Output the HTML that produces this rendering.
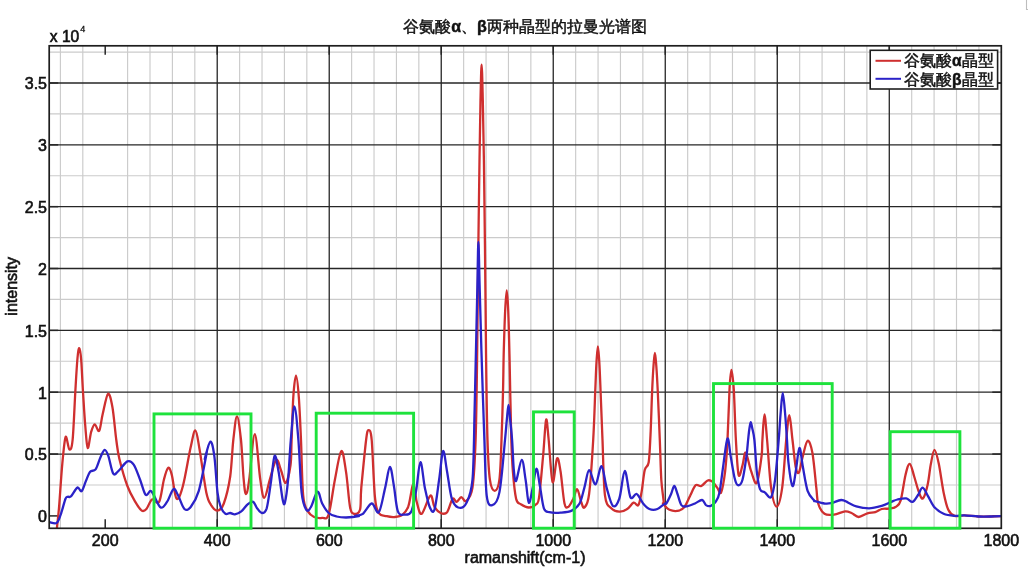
<!DOCTYPE html>
<html><head><meta charset="utf-8"><style>
html,body{margin:0;padding:0;background:#fff;width:1028px;height:567px;overflow:hidden}
svg{display:block;font-family:"Liberation Sans",sans-serif;will-change:transform}
.mg{stroke:#cbcbcb;stroke-width:1.15}
.Mg{stroke:#262626;stroke-width:1.3}
.tk{stroke:#262626;stroke-width:1.5}
.tl{font-size:16px;fill:#111;stroke:#111;stroke-width:0.6}
.gr{fill:none;stroke:#1ee23c;stroke-width:2.9}
.cv{fill:none;stroke-width:2.3;stroke-linejoin:round;stroke-linecap:round}
</style></head><body>
<svg width="1028" height="567" viewBox="0 0 1028 567">
<rect x="0" y="0" width="1028" height="567" fill="#fff"/>
<line x1="60.40" y1="45.8" x2="60.40" y2="528.3" class="mg"/>
<line x1="82.80" y1="45.8" x2="82.80" y2="528.3" class="mg"/>
<line x1="127.61" y1="45.8" x2="127.61" y2="528.3" class="mg"/>
<line x1="150.01" y1="45.8" x2="150.01" y2="528.3" class="mg"/>
<line x1="172.41" y1="45.8" x2="172.41" y2="528.3" class="mg"/>
<line x1="194.82" y1="45.8" x2="194.82" y2="528.3" class="mg"/>
<line x1="239.62" y1="45.8" x2="239.62" y2="528.3" class="mg"/>
<line x1="262.02" y1="45.8" x2="262.02" y2="528.3" class="mg"/>
<line x1="284.42" y1="45.8" x2="284.42" y2="528.3" class="mg"/>
<line x1="306.83" y1="45.8" x2="306.83" y2="528.3" class="mg"/>
<line x1="351.63" y1="45.8" x2="351.63" y2="528.3" class="mg"/>
<line x1="374.03" y1="45.8" x2="374.03" y2="528.3" class="mg"/>
<line x1="396.44" y1="45.8" x2="396.44" y2="528.3" class="mg"/>
<line x1="418.84" y1="45.8" x2="418.84" y2="528.3" class="mg"/>
<line x1="463.64" y1="45.8" x2="463.64" y2="528.3" class="mg"/>
<line x1="486.05" y1="45.8" x2="486.05" y2="528.3" class="mg"/>
<line x1="508.45" y1="45.8" x2="508.45" y2="528.3" class="mg"/>
<line x1="530.85" y1="45.8" x2="530.85" y2="528.3" class="mg"/>
<line x1="575.66" y1="45.8" x2="575.66" y2="528.3" class="mg"/>
<line x1="598.06" y1="45.8" x2="598.06" y2="528.3" class="mg"/>
<line x1="620.46" y1="45.8" x2="620.46" y2="528.3" class="mg"/>
<line x1="642.86" y1="45.8" x2="642.86" y2="528.3" class="mg"/>
<line x1="687.67" y1="45.8" x2="687.67" y2="528.3" class="mg"/>
<line x1="710.07" y1="45.8" x2="710.07" y2="528.3" class="mg"/>
<line x1="732.47" y1="45.8" x2="732.47" y2="528.3" class="mg"/>
<line x1="754.87" y1="45.8" x2="754.87" y2="528.3" class="mg"/>
<line x1="799.68" y1="45.8" x2="799.68" y2="528.3" class="mg"/>
<line x1="822.08" y1="45.8" x2="822.08" y2="528.3" class="mg"/>
<line x1="844.48" y1="45.8" x2="844.48" y2="528.3" class="mg"/>
<line x1="866.89" y1="45.8" x2="866.89" y2="528.3" class="mg"/>
<line x1="911.69" y1="45.8" x2="911.69" y2="528.3" class="mg"/>
<line x1="934.09" y1="45.8" x2="934.09" y2="528.3" class="mg"/>
<line x1="956.50" y1="45.8" x2="956.50" y2="528.3" class="mg"/>
<line x1="978.90" y1="45.8" x2="978.90" y2="528.3" class="mg"/>
<line x1="49.2" y1="484.98" x2="1001.3" y2="484.98" class="mg"/>
<line x1="49.2" y1="423.13" x2="1001.3" y2="423.13" class="mg"/>
<line x1="49.2" y1="361.29" x2="1001.3" y2="361.29" class="mg"/>
<line x1="49.2" y1="299.44" x2="1001.3" y2="299.44" class="mg"/>
<line x1="49.2" y1="237.60" x2="1001.3" y2="237.60" class="mg"/>
<line x1="49.2" y1="175.75" x2="1001.3" y2="175.75" class="mg"/>
<line x1="49.2" y1="113.91" x2="1001.3" y2="113.91" class="mg"/>
<line x1="49.2" y1="52.06" x2="1001.3" y2="52.06" class="mg"/>
<line x1="217.22" y1="45.8" x2="217.22" y2="528.3" class="Mg"/>
<line x1="329.23" y1="45.8" x2="329.23" y2="528.3" class="Mg"/>
<line x1="441.24" y1="45.8" x2="441.24" y2="528.3" class="Mg"/>
<line x1="553.25" y1="45.8" x2="553.25" y2="528.3" class="Mg"/>
<line x1="665.26" y1="45.8" x2="665.26" y2="528.3" class="Mg"/>
<line x1="777.28" y1="45.8" x2="777.28" y2="528.3" class="Mg"/>
<line x1="889.29" y1="45.8" x2="889.29" y2="528.3" class="Mg"/>
<line x1="49.2" y1="454.05" x2="1001.3" y2="454.05" class="Mg"/>
<line x1="49.2" y1="392.21" x2="1001.3" y2="392.21" class="Mg"/>
<line x1="49.2" y1="330.37" x2="1001.3" y2="330.37" class="Mg"/>
<line x1="49.2" y1="268.52" x2="1001.3" y2="268.52" class="Mg"/>
<line x1="49.2" y1="206.67" x2="1001.3" y2="206.67" class="Mg"/>
<line x1="49.2" y1="144.83" x2="1001.3" y2="144.83" class="Mg"/>
<line x1="49.2" y1="82.99" x2="1001.3" y2="82.99" class="Mg"/>
<line x1="105.21" y1="528.3" x2="105.21" y2="519.3" class="tk"/>
<line x1="105.21" y1="45.8" x2="105.21" y2="54.8" class="tk"/>
<line x1="217.22" y1="528.3" x2="217.22" y2="519.3" class="tk"/>
<line x1="217.22" y1="45.8" x2="217.22" y2="54.8" class="tk"/>
<line x1="329.23" y1="528.3" x2="329.23" y2="519.3" class="tk"/>
<line x1="329.23" y1="45.8" x2="329.23" y2="54.8" class="tk"/>
<line x1="441.24" y1="528.3" x2="441.24" y2="519.3" class="tk"/>
<line x1="441.24" y1="45.8" x2="441.24" y2="54.8" class="tk"/>
<line x1="553.25" y1="528.3" x2="553.25" y2="519.3" class="tk"/>
<line x1="553.25" y1="45.8" x2="553.25" y2="54.8" class="tk"/>
<line x1="665.26" y1="528.3" x2="665.26" y2="519.3" class="tk"/>
<line x1="665.26" y1="45.8" x2="665.26" y2="54.8" class="tk"/>
<line x1="777.28" y1="528.3" x2="777.28" y2="519.3" class="tk"/>
<line x1="777.28" y1="45.8" x2="777.28" y2="54.8" class="tk"/>
<line x1="889.29" y1="528.3" x2="889.29" y2="519.3" class="tk"/>
<line x1="889.29" y1="45.8" x2="889.29" y2="54.8" class="tk"/>
<line x1="49.2" y1="515.90" x2="58.2" y2="515.90" class="tk"/>
<line x1="1001.3" y1="515.90" x2="992.3" y2="515.90" class="tk"/>
<line x1="49.2" y1="454.05" x2="58.2" y2="454.05" class="tk"/>
<line x1="1001.3" y1="454.05" x2="992.3" y2="454.05" class="tk"/>
<line x1="49.2" y1="392.21" x2="58.2" y2="392.21" class="tk"/>
<line x1="1001.3" y1="392.21" x2="992.3" y2="392.21" class="tk"/>
<line x1="49.2" y1="330.37" x2="58.2" y2="330.37" class="tk"/>
<line x1="1001.3" y1="330.37" x2="992.3" y2="330.37" class="tk"/>
<line x1="49.2" y1="268.52" x2="58.2" y2="268.52" class="tk"/>
<line x1="1001.3" y1="268.52" x2="992.3" y2="268.52" class="tk"/>
<line x1="49.2" y1="206.67" x2="58.2" y2="206.67" class="tk"/>
<line x1="1001.3" y1="206.67" x2="992.3" y2="206.67" class="tk"/>
<line x1="49.2" y1="144.83" x2="58.2" y2="144.83" class="tk"/>
<line x1="1001.3" y1="144.83" x2="992.3" y2="144.83" class="tk"/>
<line x1="49.2" y1="82.99" x2="58.2" y2="82.99" class="tk"/>
<line x1="1001.3" y1="82.99" x2="992.3" y2="82.99" class="tk"/>
<defs><clipPath id="pc"><rect x="49.2" y="45.8" width="952.1" height="482.5"/></clipPath></defs>
<g clip-path="url(#pc)">
<path d="M56.7,530.0 C57.1,526.1 58.2,517.7 59.1,506.7 C60.0,495.7 61.2,475.4 62.3,463.8 C63.4,452.2 64.5,439.4 65.6,437.0 C66.8,434.6 68.2,449.0 69.4,449.5 C70.6,450.0 71.6,449.6 72.6,440.0 C73.6,430.4 74.5,405.7 75.3,392.0 C76.1,378.3 76.8,365.3 77.5,358.0 C78.2,350.7 78.7,347.9 79.3,348.2 C79.9,348.5 80.6,352.7 81.2,360.0 C81.8,367.3 82.3,381.2 83.0,392.0 C83.7,402.8 84.4,415.7 85.2,425.0 C86.0,434.3 86.7,446.8 87.7,447.9 C88.7,449.0 90.0,435.7 91.2,431.7 C92.4,427.8 93.4,424.5 94.7,424.3 C96.1,424.2 97.8,432.6 99.2,430.8 C100.5,429.1 101.2,420.3 102.7,414.1 C104.2,407.9 106.4,395.0 108.0,393.8 C109.6,392.6 111.0,399.3 112.4,407.0 C113.8,414.7 115.1,431.3 116.3,440.0 C117.5,448.7 117.6,451.4 119.4,459.0 C121.3,466.7 124.7,478.9 127.4,486.0 C130.0,493.2 132.9,497.8 135.3,501.9 C137.7,506.0 139.8,509.4 141.7,510.6 C143.5,511.8 144.7,510.9 146.4,509.0 C148.1,507.2 149.9,500.7 152.0,499.5 C154.1,498.3 157.1,505.2 159.1,501.9 C161.1,498.6 162.4,485.4 163.9,479.7 C165.4,474.0 166.8,468.6 168.2,467.8 C169.5,467.0 170.4,469.8 171.8,474.9 C173.2,480.1 174.7,496.9 176.6,498.7 C178.4,500.6 180.6,494.5 182.9,486.0 C185.2,477.6 188.4,457.3 190.5,448.0 C192.6,438.7 193.8,430.3 195.3,430.5 C196.8,430.7 197.7,438.7 199.5,449.0 C201.3,459.3 204.4,483.0 206.3,492.4 C208.3,501.7 209.3,502.0 211.1,505.1 C213.0,508.1 215.3,510.9 217.5,510.6 C219.6,510.4 221.7,509.2 223.8,503.5 C225.9,497.8 228.6,487.1 230.2,476.5 C231.7,465.9 232.2,450.0 233.3,440.0 C234.5,430.0 235.7,416.3 237.0,416.3 C238.3,416.3 239.8,429.4 241.0,440.0 C242.1,450.6 242.8,470.7 243.7,479.7 C244.5,488.7 245.1,494.0 246.0,494.0 C247.0,494.0 247.8,489.7 249.2,479.7 C250.7,469.7 252.9,434.1 254.8,434.1 C256.6,434.1 258.7,469.0 260.3,479.7 C261.9,490.3 262.7,497.9 264.3,497.9 C265.9,497.9 267.9,486.0 269.8,479.7 C271.8,473.3 274.3,461.4 276.2,459.8 C278.0,458.3 279.4,466.3 281.0,470.2 C282.5,474.0 284.1,483.7 285.7,482.9 C287.3,482.1 289.5,472.5 290.5,465.4 C291.5,458.3 291.1,451.4 291.6,440.0 C292.1,428.6 292.6,407.7 293.3,397.0 C294.0,386.3 295.1,375.6 296.0,375.6 C296.9,375.6 298.0,386.3 298.8,397.0 C299.6,407.7 300.3,423.6 301.0,440.0 C301.7,456.4 302.0,483.7 303.2,495.6 C304.3,507.5 306.1,507.9 307.9,511.4 C309.8,515.0 311.9,515.9 314.3,517.0 C316.7,518.0 319.8,518.2 322.2,517.8 C324.6,517.4 326.5,521.0 328.6,514.6 C330.7,508.3 332.8,490.3 334.9,479.7 C337.0,469.1 339.4,452.4 341.3,451.1 C343.1,449.8 344.6,462.5 346.0,471.7 C347.5,481.0 348.7,499.7 350.0,506.7 C351.3,513.7 352.3,513.3 354.0,513.8 C355.6,514.3 358.8,514.2 360.0,509.8 C361.2,505.5 360.3,499.3 361.3,487.6 C362.4,476.0 364.9,449.6 366.1,440.0 C367.3,430.4 367.6,430.2 368.5,430.2 C369.4,430.2 370.6,429.1 371.7,440.0 C372.7,450.9 373.7,483.4 374.8,495.6 C376.0,507.7 376.8,509.6 378.8,513.0 C380.8,516.5 384.1,515.5 386.7,516.2 C389.4,516.9 392.0,517.2 394.7,517.0 C397.3,516.7 400.4,516.3 402.6,514.6 C404.9,512.9 406.7,510.4 408.2,506.7 C409.6,502.9 410.5,495.8 411.3,492.0 C412.1,488.2 412.6,484.0 413.2,484.0 C413.8,484.0 414.6,488.8 415.2,492.0 C415.8,495.2 415.9,499.4 417.0,503.0 C418.1,506.6 419.4,515.1 421.7,513.8 C423.9,512.6 428.3,496.7 430.4,495.6 C432.5,494.4 432.6,503.8 434.4,506.7 C436.1,509.6 438.6,512.1 440.7,513.0 C442.8,513.9 445.1,514.6 447.1,512.2 C449.0,509.8 451.0,500.4 452.6,498.7 C454.2,497.0 455.1,502.2 456.6,501.9 C458.0,501.6 459.8,497.3 461.3,497.1 C462.9,497.0 464.3,502.7 466.1,501.1 C468.0,499.5 470.9,497.8 472.5,487.6 C474.0,477.4 474.8,462.9 475.6,440.0 C476.4,417.1 476.8,381.7 477.2,350.0 C477.6,318.3 477.9,281.7 478.3,250.0 C478.7,218.3 479.1,185.0 479.5,160.0 C479.9,135.0 480.1,115.9 480.5,100.0 C480.9,84.1 481.2,64.7 481.6,64.7 C482.0,64.7 482.4,84.1 482.8,100.0 C483.2,115.9 483.5,135.0 483.9,160.0 C484.3,185.0 484.6,218.3 485.0,250.0 C485.4,281.7 485.6,318.3 486.0,350.0 C486.4,381.7 486.8,418.4 487.5,440.0 C488.2,461.6 488.7,471.2 489.9,479.7 C491.1,488.1 493.1,490.8 494.7,490.8 C496.3,490.8 498.3,488.1 499.4,479.7 C500.6,471.2 500.9,454.6 501.5,440.0 C502.1,425.4 502.6,407.0 503.0,392.0 C503.4,377.0 503.4,363.7 503.8,350.0 C504.2,336.3 504.7,319.9 505.2,310.0 C505.7,300.1 506.2,290.5 506.7,290.5 C507.2,290.5 507.7,298.4 508.2,310.0 C508.7,321.6 509.1,338.3 509.6,360.0 C510.1,381.7 510.7,421.4 511.3,440.0 C511.9,458.6 512.1,462.0 512.9,471.7 C513.7,481.5 514.8,493.3 516.1,498.7 C517.4,504.2 518.8,502.8 520.9,504.3 C523.0,505.7 526.3,507.5 528.8,507.5 C531.3,507.5 534.2,506.0 536.0,504.3 C537.7,502.6 537.9,505.2 539.1,497.1 C540.3,489.1 541.9,468.8 543.1,455.9 C544.3,443.0 545.2,422.4 546.1,419.8 C547.0,417.2 547.6,429.6 548.7,440.0 C549.7,450.4 551.2,479.0 552.6,482.1 C554.0,485.1 555.7,460.0 557.1,458.3 C558.4,456.5 559.3,464.2 560.6,471.7 C561.8,479.3 563.2,497.7 564.5,503.5 C565.8,509.3 567.0,507.5 568.5,506.7 C569.9,505.9 571.8,501.6 573.3,498.7 C574.7,495.8 575.9,488.7 577.2,489.2 C578.5,489.7 580.0,498.9 581.2,501.9 C582.4,504.9 583.0,508.8 584.4,507.5 C585.7,506.1 587.7,505.2 589.1,494.0 C590.6,482.7 592.2,457.0 593.2,440.0 C594.2,423.0 594.7,405.0 595.2,392.0 C595.8,379.0 596.0,369.6 596.5,362.0 C597.0,354.4 597.4,346.4 597.9,346.4 C598.4,346.4 598.8,354.4 599.3,362.0 C599.8,369.6 600.1,379.0 600.6,392.0 C601.1,405.0 601.8,422.7 602.5,440.0 C603.2,457.3 603.5,484.2 605.0,495.6 C606.5,506.9 609.0,505.6 611.3,508.3 C613.7,511.0 616.6,511.6 619.3,511.7 C621.9,511.9 624.8,510.6 627.2,509.0 C629.6,507.5 631.7,503.4 633.6,502.7 C635.4,502.0 637.0,506.8 638.3,505.1 C639.7,503.4 640.4,498.2 641.5,492.4 C642.6,486.6 643.5,475.2 644.7,470.2 C645.9,465.1 647.7,468.1 648.7,462.2 C649.6,456.4 649.9,446.7 650.5,435.0 C651.1,423.3 651.6,403.5 652.1,392.0 C652.6,380.5 653.0,372.5 653.5,366.0 C654.0,359.5 654.4,352.9 654.9,352.9 C655.4,352.9 655.8,359.5 656.3,366.0 C656.8,372.5 657.2,379.7 657.8,392.0 C658.4,404.3 659.2,425.4 659.8,440.0 C660.4,454.6 660.7,469.4 661.3,479.7 C662.0,490.0 663.4,497.9 663.7,501.9 C664.0,505.9 662.2,502.2 663.2,503.5 C664.1,504.8 666.9,508.7 669.5,509.8 C672.2,511.0 676.5,511.2 679.0,510.6 C681.6,510.1 682.8,509.2 684.6,506.7 C686.5,504.2 688.3,499.1 690.2,495.6 C692.0,492.0 693.9,486.8 695.7,485.2 C697.6,483.7 699.3,486.8 701.3,486.0 C703.3,485.2 705.8,481.2 707.6,480.5 C709.5,479.7 710.8,480.4 712.4,481.6 C714.0,482.8 715.7,485.8 717.1,487.6 C718.6,489.4 719.8,495.0 721.1,492.4 C722.4,489.7 724.0,480.5 725.1,471.7 C726.1,463.0 726.8,453.7 727.5,440.0 C728.2,426.3 728.9,401.4 729.5,389.7 C730.1,378.0 730.7,369.8 731.4,369.8 C732.1,369.8 733.0,378.0 733.8,389.7 C734.5,401.4 735.1,425.8 735.9,440.0 C736.7,454.2 737.5,470.7 738.6,474.9 C739.7,479.2 741.3,469.1 742.5,465.4 C743.7,461.7 744.3,451.6 745.7,452.7 C747.2,453.8 749.4,466.7 751.3,471.7 C753.1,476.8 755.1,485.5 756.8,482.9 C758.5,480.2 760.7,463.0 761.6,455.9 C762.5,448.7 761.9,446.9 762.4,440.0 C762.9,433.1 763.6,414.3 764.4,414.3 C765.2,414.3 766.0,427.8 767.1,440.0 C768.2,452.2 769.5,476.5 771.1,487.6 C772.7,498.7 774.8,506.7 776.7,506.7 C778.5,506.7 780.6,498.7 782.2,487.6 C783.8,476.5 785.0,452.1 786.2,440.0 C787.4,427.9 788.4,415.1 789.4,415.1 C790.4,415.1 791.4,431.4 792.5,440.0 C793.6,448.6 794.6,461.6 795.7,467.0 C796.8,472.4 797.7,474.4 798.9,472.5 C800.1,470.7 801.4,461.2 802.9,455.9 C804.3,450.6 806.0,441.3 807.6,440.8 C809.2,440.3 810.9,444.9 812.4,452.7 C813.8,460.5 815.4,479.2 816.3,487.6 C817.3,496.1 816.8,499.1 818.2,503.5 C819.5,507.9 821.9,512.0 824.5,513.8 C827.2,515.7 830.6,515.0 834.0,514.6 C837.5,514.2 842.2,511.7 845.2,511.4 C848.1,511.2 849.3,512.1 851.5,513.0 C853.8,513.9 856.0,516.9 858.7,517.0 C861.3,517.0 864.6,514.1 867.4,513.3 C870.2,512.5 872.9,512.9 875.3,512.2 C877.7,511.5 879.3,509.7 881.7,509.0 C884.0,508.4 887.2,509.0 889.6,508.6 C892.0,508.2 894.1,508.0 896.0,506.7 C897.8,505.3 899.1,505.6 900.7,500.3 C902.3,495.0 904.0,481.0 905.5,474.9 C907.0,468.8 908.3,463.5 909.8,463.8 C911.2,464.1 912.7,471.7 914.2,476.5 C915.7,481.3 917.5,488.7 919.0,492.4 C920.4,496.0 921.5,499.7 922.9,498.4 C924.4,497.1 926.4,490.2 927.7,484.4 C929.0,478.7 929.7,469.6 930.9,463.8 C932.0,458.0 933.2,449.8 934.5,449.8 C935.8,449.8 937.3,456.7 938.8,463.8 C940.3,470.9 942.0,484.7 943.6,492.4 C945.2,500.1 946.5,505.9 948.3,509.8 C950.2,513.8 952.0,514.9 954.7,515.9 C957.3,516.8 960.3,515.3 964.2,515.4 C968.1,515.5 973.9,516.3 978.3,516.5 C982.7,516.7 986.8,516.6 990.6,516.5 C994.4,516.4 999.5,516.1 1001.3,516.0" class="cv" stroke="#cf2f2f"/>
<path d="M49.6,522.2 C50.8,522.3 54.9,524.1 56.7,522.9 C58.6,521.6 59.2,518.6 60.7,514.6 C62.2,510.6 64.3,501.7 65.5,498.7 C66.7,495.8 66.9,497.2 67.8,496.8 C68.8,496.4 69.4,497.9 71.0,496.3 C72.6,494.8 75.6,488.5 77.4,487.6 C79.1,486.7 80.2,492.3 81.7,491.1 C83.1,489.9 84.7,483.7 86.1,480.5 C87.5,477.2 88.5,473.6 90.1,471.7 C91.7,469.9 93.9,471.7 95.6,469.4 C97.3,467.0 98.9,460.7 100.4,457.5 C101.9,454.2 103.3,450.1 104.7,449.8 C106.0,449.6 106.9,452.0 108.3,455.9 C109.7,459.8 111.5,470.7 113.1,473.3 C114.7,476.0 115.5,473.7 117.8,471.7 C120.2,469.8 124.7,462.6 127.4,461.4 C130.0,460.2 131.6,461.6 133.7,464.6 C135.8,467.6 138.1,474.7 140.1,479.7 C142.0,484.7 143.9,492.9 145.6,494.8 C147.3,496.6 149.1,490.8 150.4,490.8 C151.7,490.8 151.8,492.0 153.6,494.8 C155.3,497.5 158.4,506.3 160.7,507.5 C162.9,508.7 164.9,504.9 167.0,501.9 C169.2,498.9 171.5,490.3 173.4,489.2 C175.2,488.1 176.3,492.2 178.2,495.6 C180.0,498.9 182.4,507.2 184.5,509.0 C186.6,510.9 188.5,509.7 190.9,506.7 C193.2,503.6 196.1,499.8 198.8,490.8 C201.4,481.8 205.7,458.0 206.7,452.7 C207.7,447.4 204.2,460.9 204.8,459.0 C205.4,457.2 208.7,442.1 210.3,441.6 C211.9,441.1 213.1,447.4 214.3,455.9 C215.5,464.3 216.4,483.9 217.5,492.4 C218.5,500.8 219.3,503.1 220.6,506.7 C222.0,510.2 223.8,512.8 225.4,513.8 C227.0,514.9 228.6,512.9 230.2,513.0 C231.7,513.1 233.1,514.6 234.9,514.3 C236.8,514.0 239.2,513.1 241.3,511.4 C243.4,509.8 245.6,505.9 247.6,504.3 C249.6,502.7 251.6,501.2 253.2,501.9 C254.8,502.6 255.7,506.4 257.1,508.3 C258.6,510.1 260.3,513.0 261.9,513.0 C263.5,513.0 265.2,513.0 266.7,508.3 C268.1,503.5 269.3,493.2 270.6,484.4 C272.0,475.7 273.3,458.0 274.6,455.9 C275.9,453.8 277.2,464.6 278.6,471.7 C279.9,478.9 281.5,493.6 282.5,498.7 C283.6,503.9 284.0,505.9 284.9,502.7 C285.8,499.5 287.1,490.1 288.1,479.7 C289.1,469.2 289.7,452.2 290.8,440.0 C291.9,427.8 293.2,406.3 294.4,406.3 C295.7,406.3 297.2,425.7 298.4,440.0 C299.6,454.3 300.3,480.7 301.6,492.4 C302.9,504.0 304.8,507.5 306.3,509.8 C307.9,512.2 309.3,509.7 311.1,506.7 C313.0,503.6 315.6,492.1 317.5,491.6 C319.3,491.1 320.4,499.9 322.2,503.5 C324.1,507.1 326.2,510.8 328.6,513.0 C331.0,515.2 333.6,515.8 336.5,516.5 C339.4,517.2 342.3,517.5 346.0,517.5 C349.7,517.4 357.2,516.5 358.7,516.2 C360.2,515.9 354.3,516.3 355.0,515.9 C355.7,515.5 360.2,515.9 362.9,513.8 C365.7,511.7 369.0,503.8 371.7,503.5 C374.3,503.2 376.6,514.9 378.8,512.2 C381.1,509.6 383.3,495.2 385.2,487.6 C387.0,480.1 388.5,467.2 389.9,467.0 C391.4,466.7 392.6,478.6 393.9,486.0 C395.2,493.4 396.1,506.7 397.9,511.4 C399.6,516.2 402.0,514.6 404.2,514.6 C406.5,514.6 409.4,515.4 411.3,511.4 C413.3,507.5 414.6,499.0 416.1,490.8 C417.6,482.6 418.9,462.8 420.4,462.2 C421.9,461.7 423.3,480.2 424.8,487.6 C426.4,495.0 428.0,503.0 429.6,506.7 C431.2,510.4 432.8,514.3 434.4,509.8 C436.0,505.3 437.7,489.5 439.1,479.7 C440.6,469.9 441.8,452.4 443.1,451.1 C444.4,449.8 445.6,463.8 447.1,471.7 C448.5,479.7 450.0,492.8 451.8,498.7 C453.7,504.7 455.8,506.7 458.2,507.5 C460.6,508.3 463.7,508.1 466.1,503.5 C468.5,498.9 471.0,495.3 472.5,479.7 C473.9,464.1 474.0,433.3 474.6,410.0 C475.2,386.7 475.7,360.8 476.2,340.0 C476.7,319.2 477.0,301.3 477.4,285.0 C477.8,268.7 478.0,242.0 478.4,242.0 C478.8,242.0 479.1,267.0 479.6,285.0 C480.1,303.0 480.6,324.2 481.4,350.0 C482.2,375.8 483.5,415.7 484.4,440.0 C485.3,464.3 485.4,484.7 486.7,495.6 C488.1,506.4 490.2,505.6 492.3,505.1 C494.4,504.6 497.3,503.2 499.4,492.4 C501.6,481.5 503.8,452.1 505.0,440.0 C506.2,427.9 506.2,425.8 506.8,420.0 C507.4,414.2 507.9,405.0 508.5,405.0 C509.1,405.0 509.6,414.2 510.2,420.0 C510.8,425.8 511.5,431.9 512.1,440.0 C512.7,448.1 513.1,461.7 513.7,468.6 C514.4,475.4 514.8,482.4 516.1,481.0 C517.4,479.5 520.1,460.1 521.7,459.8 C523.3,459.6 524.4,472.5 525.6,479.7 C526.8,486.8 527.6,501.4 528.8,502.7 C530.0,504.0 531.5,493.3 532.8,487.6 C534.0,481.9 535.2,468.8 536.4,468.6 C537.6,468.3 538.7,479.4 539.9,486.0 C541.2,492.6 542.3,503.9 543.9,508.3 C545.5,512.6 546.7,511.5 549.4,512.2 C552.2,513.0 556.9,513.0 560.6,512.7 C564.3,512.4 568.5,512.2 571.7,510.6 C574.8,509.1 577.5,507.3 579.6,503.5 C581.7,499.7 582.8,493.2 584.4,487.6 C586.0,482.1 587.3,470.7 589.1,470.2 C591.0,469.6 593.4,485.1 595.5,484.4 C597.5,483.8 599.7,465.7 601.5,466.2 C603.4,466.7 604.7,481.0 606.6,487.6 C608.5,494.2 610.8,504.0 612.9,505.9 C615.1,507.7 617.3,504.6 619.3,498.7 C621.3,492.9 623.0,471.2 624.8,471.0 C626.7,470.7 628.4,493.3 630.4,497.1 C632.4,501.0 634.6,492.9 636.7,494.0 C638.9,495.0 641.0,501.0 643.1,503.5 C645.2,506.0 647.1,508.1 649.4,509.0 C651.8,510.0 654.8,510.0 657.4,509.0 C660.0,508.1 663.5,504.4 665.0,503.5 C666.5,502.6 665.3,505.1 666.3,503.5 C667.4,501.9 669.8,496.9 671.1,494.0 C672.4,491.1 673.2,486.0 674.3,486.0 C675.3,486.0 676.3,490.8 677.5,494.0 C678.7,497.1 679.8,503.0 681.4,505.1 C683.0,507.1 684.7,506.6 687.0,506.3 C689.2,506.1 692.4,504.6 694.9,503.5 C697.4,502.4 700.2,499.7 702.1,500.0 C703.9,500.3 704.6,504.1 706.0,505.1 C707.5,506.1 709.2,506.4 710.8,505.9 C712.4,505.3 714.1,504.2 715.6,501.9 C717.0,499.7 718.2,498.7 719.5,492.4 C720.8,486.0 722.2,472.8 723.5,463.8 C724.8,454.8 726.3,439.8 727.5,438.5 C728.7,437.2 729.5,449.3 730.6,455.9 C731.8,462.5 733.4,473.2 734.6,478.1 C735.8,483.0 736.5,485.0 737.8,485.2 C739.1,485.5 741.1,484.6 742.5,479.7 C744.0,474.8 745.6,462.5 746.5,455.9 C747.4,449.3 747.6,444.6 748.1,440.0 C748.6,435.4 749.0,431.0 749.5,428.0 C750.0,425.0 750.3,422.2 750.8,422.2 C751.2,422.2 751.6,425.0 752.2,428.0 C752.8,431.0 753.6,432.7 754.4,440.0 C755.2,447.3 755.9,463.5 756.8,471.7 C757.8,479.9 758.7,485.8 760.0,489.2 C761.3,492.6 762.9,491.1 764.8,492.4 C766.6,493.7 769.4,499.3 771.1,497.1 C772.8,495.0 773.8,489.2 775.1,479.7 C776.3,470.2 777.8,451.0 778.7,440.0 C779.6,429.0 779.9,421.4 780.6,413.5 C781.3,405.6 782.0,392.9 782.7,392.9 C783.5,392.9 784.4,405.6 785.1,413.5 C785.8,421.4 786.4,431.6 787.0,440.0 C787.6,448.4 787.6,456.1 788.6,463.8 C789.5,471.5 791.3,484.7 792.5,486.0 C793.7,487.4 794.6,478.1 795.7,471.7 C796.9,465.4 798.2,448.7 799.4,447.9 C800.6,447.1 801.5,459.8 802.9,467.0 C804.2,474.1 805.8,485.2 807.6,490.8 C809.5,496.3 812.7,498.6 814.0,500.3 C815.2,502.0 813.2,500.6 815.0,501.1 C816.8,501.6 821.9,503.1 824.5,503.5 C827.2,503.8 828.1,503.8 830.9,503.2 C833.7,502.6 838.3,500.1 841.2,500.0 C844.1,499.9 845.8,501.6 848.3,502.7 C850.8,503.8 852.8,505.4 856.3,506.3 C859.7,507.3 864.7,508.3 869.0,508.3 C873.2,508.2 878.0,506.9 881.7,505.9 C885.4,504.8 888.5,503.0 891.2,501.9 C893.8,500.8 895.0,500.1 897.5,499.5 C900.1,498.9 903.8,498.0 906.3,498.4 C908.8,498.8 910.6,502.5 912.6,501.9 C914.6,501.3 916.5,497.1 918.2,494.8 C919.8,492.4 921.0,487.5 922.6,487.6 C924.2,487.8 925.8,492.4 927.7,495.6 C929.6,498.7 931.4,503.6 934.0,506.7 C936.7,509.7 940.1,512.3 943.6,513.8 C947.0,515.3 951.2,515.6 954.7,515.9 C958.1,516.1 960.3,515.3 964.2,515.4 C968.1,515.5 973.9,516.3 978.3,516.5 C982.7,516.7 986.8,516.6 990.6,516.5 C994.4,516.4 999.5,516.1 1001.3,516.0" class="cv" stroke="#2b22c8"/>
</g>
<rect x="49.2" y="45.8" width="952.1" height="482.5" fill="none" stroke="#1e1e1e" stroke-width="1.7"/>
<rect x="154.0" y="413.9" width="97.0" height="114.3" class="gr"/>
<rect x="316.2" y="413.2" width="97.4" height="115.0" class="gr"/>
<rect x="533.5" y="411.9" width="40.7" height="116.3" class="gr"/>
<rect x="713.5" y="383.6" width="118.7" height="144.6" class="gr"/>
<rect x="890.2" y="431.7" width="69.7" height="96.5" class="gr"/>
<text x="105.21" y="545.6" text-anchor="middle" class="tl">200</text>
<text x="217.22" y="545.6" text-anchor="middle" class="tl">400</text>
<text x="329.23" y="545.6" text-anchor="middle" class="tl">600</text>
<text x="441.24" y="545.6" text-anchor="middle" class="tl">800</text>
<text x="553.25" y="545.6" text-anchor="middle" class="tl">1000</text>
<text x="665.26" y="545.6" text-anchor="middle" class="tl">1200</text>
<text x="777.28" y="545.6" text-anchor="middle" class="tl">1400</text>
<text x="889.29" y="545.6" text-anchor="middle" class="tl">1600</text>
<text x="1001.30" y="545.6" text-anchor="middle" class="tl">1800</text>
<text x="47" y="522.20" text-anchor="end" class="tl">0</text>
<text x="47" y="460.35" text-anchor="end" class="tl">0.5</text>
<text x="47" y="398.51" text-anchor="end" class="tl">1</text>
<text x="47" y="336.67" text-anchor="end" class="tl">1.5</text>
<text x="47" y="274.82" text-anchor="end" class="tl">2</text>
<text x="47" y="212.97" text-anchor="end" class="tl">2.5</text>
<text x="47" y="151.13" text-anchor="end" class="tl">3</text>
<text x="47" y="89.29" text-anchor="end" class="tl">3.5</text>
<text x="49.8" y="42.2" class="tl" style="font-size:15.6px">x 10</text>
<text x="80.3" y="32" style="font-size:9px;fill:#111;stroke:#111;stroke-width:0.3">4</text>
<text x="525" y="32.4" text-anchor="middle" style="font-size:16px;fill:#111;stroke:#111;stroke-width:0.45">谷氨酸<tspan font-weight="bold">α</tspan>、<tspan font-weight="bold">β</tspan>两种晶型的拉曼光谱图</text>
<text x="525" y="562.6" text-anchor="middle" class="tl">ramanshift(cm-1)</text>
<text transform="translate(17.3,286.3) rotate(-90)" text-anchor="middle" class="tl">intensity</text>
<rect x="870.2" y="50.3" width="127.4" height="38.7" fill="#fff" stroke="#1e1e1e" stroke-width="1.6"/>
<line x1="875.5" y1="60.8" x2="901" y2="60.8" stroke="#cf2f2f" stroke-width="2"/>
<line x1="875.5" y1="78.8" x2="901" y2="78.8" stroke="#2b22c8" stroke-width="2"/>
<text x="904" y="66.3" style="font-size:15.6px;fill:#111;stroke:#111;stroke-width:0.45">谷氨酸<tspan font-weight="bold">α</tspan>晶型</text>
<text x="904" y="84.6" style="font-size:15.6px;fill:#111;stroke:#111;stroke-width:0.45">谷氨酸<tspan font-weight="bold">β</tspan>晶型</text>
<path d="M1026.5,0 V9.5 H1028" stroke="#bdbdbd" stroke-width="1.1" fill="none"/>
</svg>
</body></html>
